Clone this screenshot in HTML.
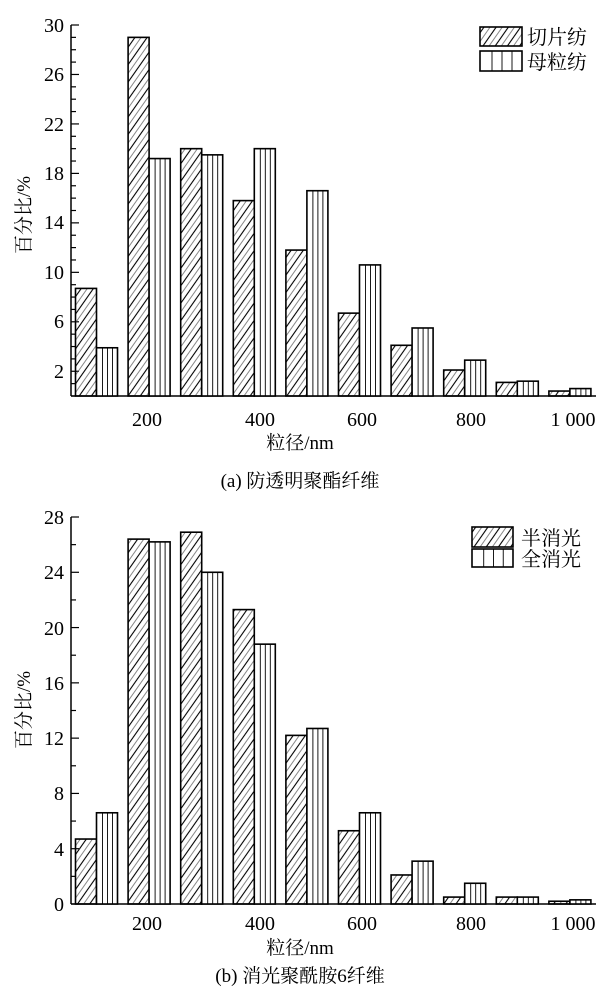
<!DOCTYPE html>
<html><head><meta charset="utf-8"><style>
html,body{margin:0;padding:0;background:#fff;width:600px;height:1000px;overflow:hidden}
svg text{font-family:"Liberation Serif","Noto Serif CJK SC",serif;fill:#000}
</style></head><body>
<svg id="s" width="600" height="1000" xmlns="http://www.w3.org/2000/svg">
<defs>
<pattern id="h" patternUnits="userSpaceOnUse" width="10" height="10" patternTransform="rotate(35)">
<line x1="2" y1="0" x2="2" y2="10" stroke="#000" stroke-width="1.1"/>
<line x1="7" y1="0" x2="7" y2="10" stroke="#555" stroke-width="0.7"/>
</pattern>
</defs>
<g id="g"></g>
<!-- top chart text -->
<g font-size="20" text-anchor="end">
<text x="64" y="32">30</text><text x="64" y="81">26</text><text x="64" y="131">22</text>
<text x="64" y="180">18</text><text x="64" y="229">14</text><text x="64" y="279">10</text>
<text x="64" y="328">6</text><text x="64" y="378">2</text>
</g>
<g font-size="20" text-anchor="middle">
<text x="147" y="426">200</text><text x="260" y="426">400</text><text x="362" y="426">600</text>
<text x="471" y="426">800</text><text x="573" y="426">1 000</text>
<text x="300" y="449" font-size="19">粒径/nm</text>
<text x="300" y="487" font-size="19">(a) 防透明聚酯纤维</text>
</g>
<text transform="translate(30,215) rotate(-90)" font-size="19" text-anchor="middle">百分比/%</text>
<g font-size="20"><text x="527" y="44">切片纺</text><text x="527" y="69">母粒纺</text></g>
<!-- bottom chart text -->
<g font-size="20" text-anchor="end">
<text x="64" y="524">28</text><text x="64" y="579">24</text><text x="64" y="635">20</text>
<text x="64" y="690">16</text><text x="64" y="745">12</text><text x="64" y="800">8</text>
<text x="64" y="856">4</text><text x="64" y="911">0</text>
</g>
<g font-size="20" text-anchor="middle">
<text x="147" y="930">200</text><text x="260" y="930">400</text><text x="362" y="930">600</text>
<text x="471" y="930">800</text><text x="573" y="930">1 000</text>
<text x="300" y="954" font-size="19">粒径/nm</text>
<text x="300" y="982" font-size="19">(b) 消光聚酰胺6纤维</text>
</g>
<text transform="translate(30,710) rotate(-90)" font-size="19" text-anchor="middle">百分比/%</text>
<g font-size="20"><text x="521" y="545">半消光</text><text x="521" y="566">全消光</text></g>
</svg>
<script>
var g=document.getElementById('g'),NS='http://www.w3.org/2000/svg',out='';
function L(x1,y1,x2,y2,w){out+='<line x1="'+x1+'" y1="'+y1+'" x2="'+x2+'" y2="'+y2+'" stroke="#000" stroke-width="'+(w||1)+'"/>';}
function hb(x,y,w,h){out+='<rect x="'+x+'" y="'+y+'" width="'+w+'" height="'+h+'" fill="url(#h)" stroke="#000" stroke-width="1.6"/>';}
function vb(x,y,w,h){out+='<rect x="'+x+'" y="'+y+'" width="'+w+'" height="'+h+'" fill="#fff" stroke="#000" stroke-width="1.6"/>';
 [6,11,16].forEach(function(o){L(x+o*w/21,y,x+o*w/21,y+h,0.9);});}
function chart(top,bot,max,labStep,vals,tickStep){
 var k=(bot-top)/max;
 L(71,top,71,bot,1.5);L(71,bot,596,bot,1.5);
 for(var v=0;v<=max;v+=tickStep){var y=bot-v*k;var maj=((v-labStep.off)%labStep.s===0);L(71,y,maj?79:76,y,1.2);}
 for(var i=0;i<10;i++){var s=75.5+i*52.6;var a=vals[i][0],b=vals[i][1];
  hb(s,bot-a*k,21,a*k);vb(s+21,bot-b*k,21,b*k);}
}
chart(25,396,30,{s:4,off:2},[[8.7,3.9],[29,19.2],[20,19.5],[15.8,20],[11.8,16.6],[6.7,10.6],[4.1,5.5],[2.1,2.9],[1.1,1.2],[0.4,0.6]],1);
chart(517,904,28,{s:4,off:0},[[4.7,6.6],[26.4,26.2],[26.9,24],[21.3,18.8],[12.2,12.7],[5.3,6.6],[2.1,3.1],[0.5,1.5],[0.5,0.5],[0.2,0.3]],2);
hb(480,27,42,19);vb(480,51,42,20);
hb(472,527,41,20);vb(472,549,41,18);
g.innerHTML=out;
</script>
</body></html>
